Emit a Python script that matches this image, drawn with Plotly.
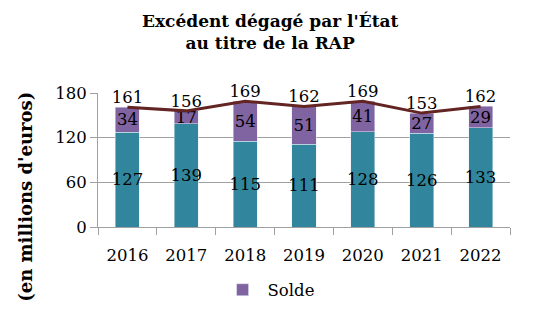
import plotly.graph_objects as go

years = ["2016", "2017", "2018", "2019", "2020", "2021", "2022"]
base_vals = [127, 139, 115, 111, 128, 126, 133]
solde_vals = [34, 17, 54, 51, 41, 27, 29]
total_vals = [161, 156, 169, 162, 169, 153, 162]

FONT = "DejaVu Serif"
FS = 16.5
teal = "#31859C"
purple = "#8064A2"
line_col = "#632523"
grid = "#A0A0A0"

fig = go.Figure()
fig.add_trace(go.Bar(
    x=years, y=base_vals, name="Base", marker_color=teal, showlegend=False,
    text=[str(v) for v in base_vals], textposition="inside", insidetextanchor="middle",
    textfont=dict(family=FONT, size=FS, color="black"), cliponaxis=False,
    textangle=0, constraintext="none",
))
fig.add_trace(go.Bar(
    x=years, y=solde_vals, name="Solde", marker_color=purple, showlegend=True,
    text=[str(v) for v in solde_vals], textposition="inside", insidetextanchor="middle",
    textfont=dict(family=FONT, size=FS, color="black"), cliponaxis=False,
    textangle=0, constraintext="none",
))
fig.add_trace(go.Scatter(
    x=years, y=total_vals, mode="lines+text", name="Total", showlegend=False,
    line=dict(color=line_col, width=3),
    text=[str(v) for v in total_vals], textposition="top center",
    textfont=dict(family=FONT, size=FS, color="black"), cliponaxis=False,
))

fig.update_layout(
    width=533, height=323,
    margin=dict(l=98, r=23, t=93, b=96),
    barmode="stack", bargap=0.59,
    paper_bgcolor="white", plot_bgcolor="white",
    font=dict(family=FONT, size=FS, color="black"),
    legend=dict(
        orientation="h", x=0.414, xanchor="center", y=-0.47, yanchor="middle",
        font=dict(family=FONT, size=FS, color="black"),
        itemwidth=40,
    ),
    annotations=[
        dict(
            text="<b>Excédent dégagé par l'État<br>au titre de la RAP</b>",
            xref="paper", yref="paper", x=0.419, y=1.458, xanchor="center", yanchor="middle",
            showarrow=False, font=dict(family=FONT, size=17, color="black"),
        ),
        dict(
            text="<b>(en millions d'euros)</b>", textangle=-90,
            xref="paper", yref="paper", x=-0.175, y=0.225, xanchor="center", yanchor="middle",
            showarrow=False, font=dict(family=FONT, size=18, color="black"),
        ),
    ],
)
fig.update_xaxes(
    showline=True, linecolor=grid, linewidth=1,
    ticks="outside", tickson="boundaries", ticklen=7, tickcolor=grid,
    ticklabelstandoff=13,
    tickfont=dict(family=FONT, size=FS, color="black"),
)
fig.update_yaxes(
    range=[0, 180], tickvals=[0, 60, 120, 180],
    showline=True, linecolor=grid, linewidth=1,
    showgrid=True, gridcolor=grid, gridwidth=1,
    ticks="outside", ticklen=7, tickcolor=grid,
    tickfont=dict(family=FONT, size=FS, color="black"), zeroline=False,
)

fig.write_html("out.html")
